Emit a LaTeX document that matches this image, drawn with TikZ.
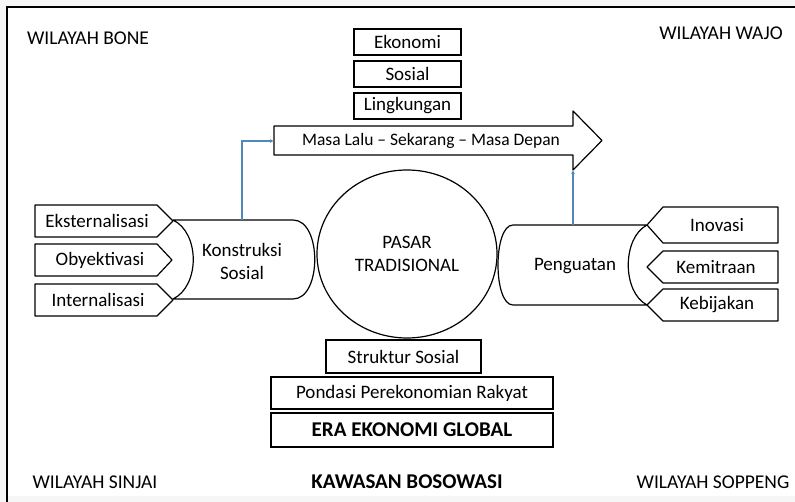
\documentclass[tikz,border=0pt]{standalone}
\usepackage{fontspec}
\setmainfont{Carlito}
\usepackage{tikz}
\usetikzlibrary{shapes.geometric,arrows.meta}
\definecolor{linkblue}{RGB}{84,135,185}
\tikzset{
	box/.style={draw, line width=1.2pt, inner sep=0pt, font=\fontsize{19}{21}\selectfont},
	txt/.style={inner sep=0pt, align=center, font=\fontsize{19}{23}\selectfont},
	region/.style={inner sep=0pt, font=\fontsize{19.5}{21}\selectfont},
	outline/.style={draw, line width=1.2pt, fill=white, line join=round},
	link/.style={draw=linkblue, line width=1.2pt, -{Latex[length=4pt,width=4pt]}}
}
\begin{document}
\begin{tikzpicture}[x=1pt,y=-1pt]
		\useasboundingbox (0,0) rectangle (795,502);
		\fill[gray!7] (0,0) rectangle (795,502);
		\fill[white] (7,7) rectangle (795,496);
		\draw[line width=1.5pt] (7,502) -- (7,7) -- (795,7);
		% regions
		\node[region] (bone) at (88,38) {WILAYAH BONE};
		\node[region] (wajo) at (721,33) {WILAYAH WAJO};
		\node[region] (sinjai) at (95,482) {WILAYAH SINJAI};
		\node[region] (soppeng) at (713,482) {WILAYAH SOPPENG};
		\node[region, font=\fontsize{21}{23}\selectfont\bfseries] (bosowasi) at (407,482) {KAWASAN BOSOWASI};
		% top boxes
		\node[box, minimum width=107pt, minimum height=26pt] (ekonomi) at (407.5,42) {Ekonomi};
		\node[box, minimum width=107pt, minimum height=26pt] (sosial) at (407.5,74) {Sosial};
		\node[box, minimum width=107pt, minimum height=26pt] (lingkungan) at (407.5,106) {Lingkungan};
		% time arrow
		\draw[outline] (274,126) -- (573,126) -- (573,111) -- (602,140.5) -- (573,170) -- (573,155) -- (274,155) -- cycle;
		\node[txt, font=\fontsize{17.5}{20}\selectfont] (masa) at (431,141) {Masa Lalu -- Sekarang -- Masa Depan};
		\coordinate (arrL) at (274,141);
		\coordinate (arrB) at (573,170);
		% left pentagons
		\draw[outline] (35,205) -- (157,205) -- (173,221) -- (157,237) -- (35,237) -- cycle;
		\draw[outline] (35,244) -- (157,244) -- (172,260) -- (157,276) -- (35,276) -- cycle;
		\draw[outline] (35,284) -- (157,284) -- (173,300) -- (157,316) -- (35,316) -- cycle;
		\node[txt] (eks) at (97,221) {Eksternalisasi};
		\node[txt] (oby) at (100,260) {Obyektivasi};
		\node[txt] (int) at (98,300) {Internalisasi};
		% konstruksi sosial
		\draw[outline] (173,220) -- (293,220) .. controls (322,220) and (322,299) .. (293,299) -- (173,299) .. controls (200,286) and (200,233) .. cycle;
		\node[txt] (konstruksi) at (242,261) {Konstruksi\\Sosial};
		\coordinate (ksTop) at (242,220);
		% right pentagons
		\draw[outline] (778,207) -- (663,207) -- (647,225) -- (663,243) -- (778,243) -- cycle;
		\draw[outline] (778,251) -- (663,251) -- (647,267) -- (663,283) -- (778,283) -- cycle;
		\draw[outline] (778,289) -- (663,289) -- (647,305) -- (663,321) -- (778,321) -- cycle;
		\node[txt] (inovasi) at (717,225) {Inovasi};
		\node[txt] (kemitraan) at (716,267) {Kemitraan};
		\node[txt] (kebijakan) at (717,305) {Kebijakan};
		% penguatan
		\draw[outline] (513,225) -- (647,225) .. controls (622,238) and (622,292) .. (647,305) -- (513,305) .. controls (493,305) and (493,225) .. cycle;
		\node[txt] (penguatan) at (575,266) {Penguatan};
		\coordinate (pgTop) at (573,225);
		% pasar tradisional
		\node[outline, ellipse, minimum width=180pt, minimum height=168pt, txt] (pasar) at (407,254) {PASAR\\TRADISIONAL};
		% bottom boxes
		\node[box, minimum width=155pt, minimum height=33pt] (struktur) at (403.5,356.5) {Struktur Sosial};
		\node[box, minimum width=282pt, minimum height=32pt] (pondasi) at (412,393) {Pondasi Perekonomian Rakyat};
		\node[box, minimum width=282pt, minimum height=34pt, font=\fontsize{21}{23}\selectfont\bfseries] (era) at (412,430) {ERA EKONOMI GLOBAL};
		% blue links
		\draw[link] (ksTop) |- (arrL);
		\draw[link] (pgTop) -- (arrB);
	\end{tikzpicture}
\end{document}
